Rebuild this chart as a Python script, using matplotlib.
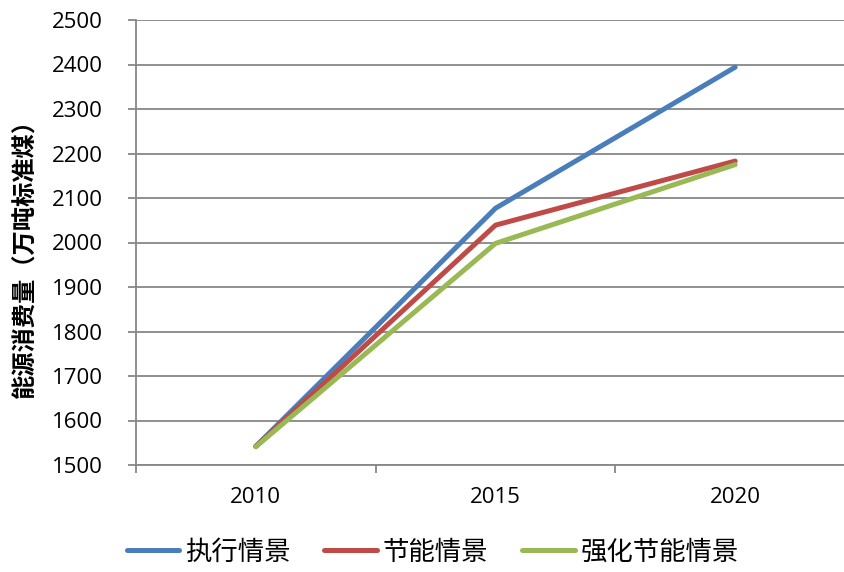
import matplotlib
matplotlib.use("Agg")
import matplotlib.pyplot as plt

plt.rcParams['font.family'] = ['Noto Sans CJK SC', 'DejaVu Sans']

years = ["2010", "2015", "2020"]
series_names = ["执行情景", "节能情景", "强化节能情景"]
exec_vals = [1542, 2077, 2394]
save_vals = [1542, 2039, 2183]
strong_vals = [1541, 1998, 2175]
y_ticks = list(range(1500, 2501, 100))

colors = ["#4A7EBB", "#BE4B48", "#98B954"]

fig = plt.figure(figsize=(8.45, 5.72), dpi=100)
ax = fig.add_axes([136 / 845, 107 / 572, (855 - 136) / 845, 445 / 572])

x = list(range(len(years)))
for vals, name, c in zip([exec_vals, save_vals, strong_vals], series_names, colors):
    ax.plot(x, vals, color=c, lw=3.6, solid_capstyle='round',
            solid_joinstyle='round', label=name, zorder=3)

ax.set_xlim(-0.5, 2.5)
ax.set_ylim(1500, 2500)
ax.set_yticks(y_ticks)
ax.set_yticklabels([str(v) for v in y_ticks], fontfamily='Open Sans', fontsize=16)
ax.set_xticks(x)
ax.set_xticklabels(years, fontfamily='Open Sans', fontsize=16)
ax.set_xticks([-0.5, 0.5, 1.5, 2.5], minor=True)

grid_c = "#878787"
ax.grid(axis='y', color=grid_c, lw=1.3, zorder=1)
for s in ['top', 'right']:
    ax.spines[s].set_visible(False)
for s in ['left', 'bottom']:
    ax.spines[s].set_color(grid_c)
    ax.spines[s].set_linewidth(1.3)

ax.tick_params(axis='y', direction='out', length=6, width=1.3, color=grid_c, pad=18)
ax.tick_params(axis='x', which='major', length=0, pad=16)
ax.tick_params(axis='x', which='minor', direction='out', length=6, width=1.3, color=grid_c)

fig.text(25 / 845, 0.559, "能源消费量（万吨标准煤）", rotation=90, ha='center',
         va='center', fontsize=17.5, fontweight='bold')

fig.legend(loc='center', bbox_to_anchor=(0.512, 1 - 552 / 572), ncol=3, frameon=False,
           fontsize=19, handlelength=2.0, handletextpad=0.2, columnspacing=1.3)

fig.savefig("out.png", dpi=100)
